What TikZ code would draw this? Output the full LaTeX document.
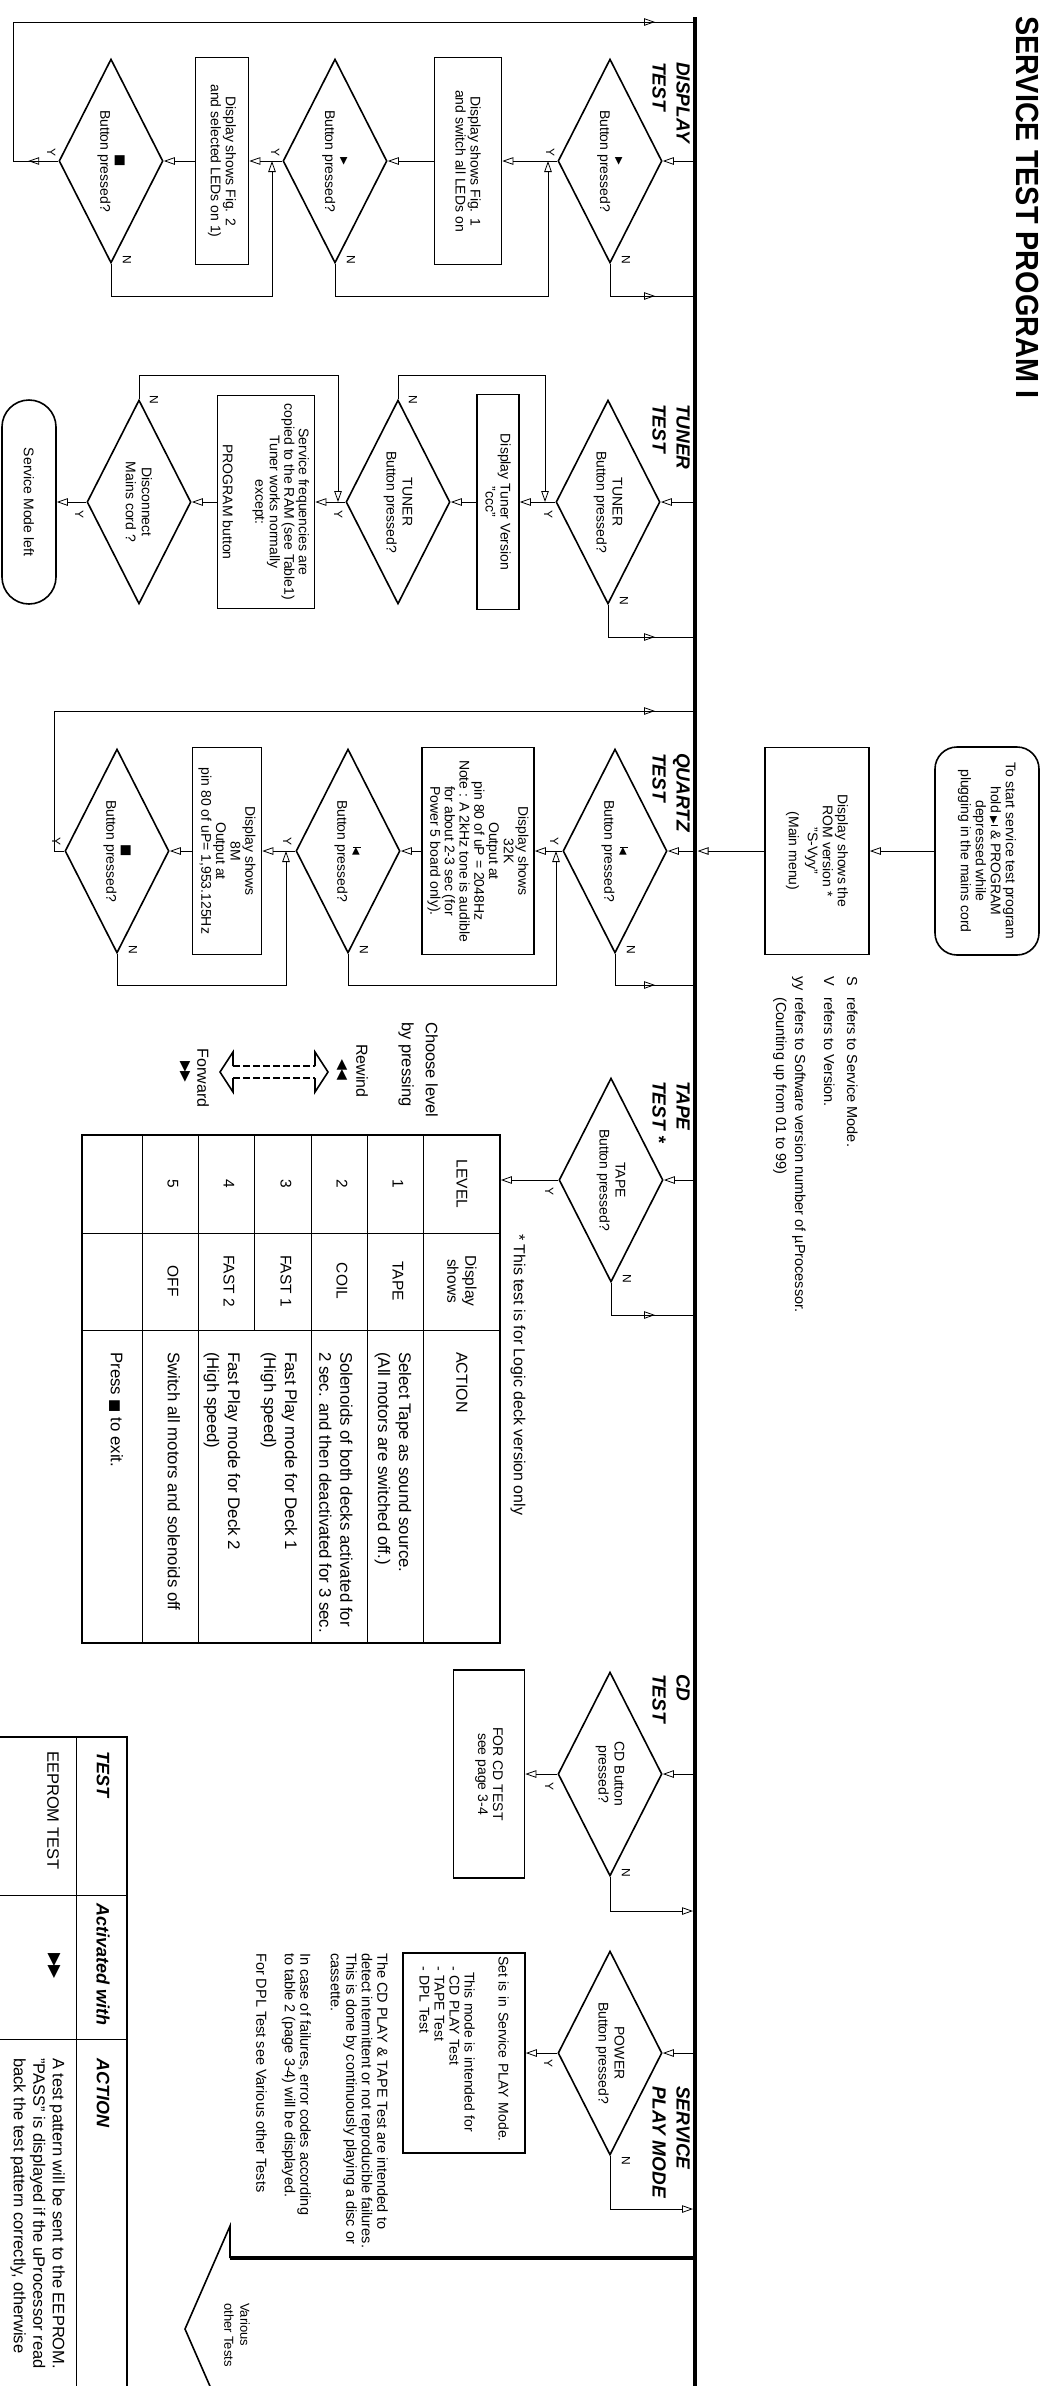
\documentclass[tikz,border=0pt]{standalone}
\usepackage{graphicx}
\usepackage{fontspec}
\setmainfont{Liberation Sans}
\newfontfamily\dvsym{DejaVu Sans}
\usetikzlibrary{arrows.meta, shapes.geometric, decorations.markings}

\newcommand\fs[2]{\fontsize{#1}{#2}\selectfont}
\newcommand\play{{\dvsym\fs{10}{10}▶}}
\newcommand\stopsym[1][13]{{\dvsym\fs{#1}{#1}■}}
\newcommand\prevsym{{\rule{0.9pt}{8pt}\dvsym\fs{10}{10}◀}}
\newcommand\nextsym{{\dvsym\fs{10}{10}▶}\kern0.8pt\rule{0.9pt}{7.5pt}}
\newcommand\rewd{{\dvsym\fs{14}{14}◀\kern-0.5pt◀}}
\newcommand\ffwd[1][14]{{\dvsym\fs{#1}{#1}▶\kern-0.5pt▶}}

\begin{document}
\begin{tikzpicture}[x=1pt, y=1pt, >={Triangle[open, length=11pt, width=7.5pt]},
  wire/.style={line width=0.8pt},
  flow/.style={wire, ->},
  arrowat/.style={postaction={decorate, decoration={markings, mark=at position #1 with {\arrow{>}}}}},
  tobus/.style={wire, arrowat=-40pt},
  busline/.style={line width=4.5pt},
  decision/.style={diamond, draw, line width=1.6pt, aspect=2, inner sep=0pt,
    minimum width=204pt, minimum height=104pt, align=center, font=\fs{14}{16}},
  procbox/.style={rectangle, draw, line width=1.6pt, inner sep=3pt, align=center, font=\fs{14}{15}},
  terminal/.style={procbox, rounded corners=#1},
  yn/.style={inner sep=0pt, font=\fs{12}{12}},
  hdr/.style={anchor=north west, align=left, inner sep=0pt, font=\fs{19}{24}\bfseries\itshape},
  txt/.style={inner sep=0pt, align=left, font=\fs{14.5}{15.5}},
  cell/.style={inner sep=0pt, align=center, font=\fs{15.5}{18}},
  act/.style={inner sep=0pt, align=left, anchor=west, font=\fs{16.8}{21}},
  thead/.style={inner sep=0pt, anchor=west, font=\fs{18}{18}\bfseries\itshape}]
\useasboundingbox (0,0) rectangle (1048,-2386);
\fill[white] (0,0) rectangle (1048,-2386);
\clip (0,0) rectangle (1048,-2386);
\begin{scope}[transform canvas={rotate=-90}]
% main bus and title
\coordinate (busL) at (17,695);
\coordinate (busR) at (2400,695);
\draw[busline] (busL) -- (busR);
\node[anchor=west, inner sep=0pt, font=\fs{32}{32}\bfseries] (title) at (16,1028) {\scalebox{0.9}[1]{SERVICE TEST PROGRAM I}};

% start of the program
\node[terminal=22pt, minimum width=208pt, minimum height=104pt] (start) at (851,987) {To start service test program\\hold \nextsym{} \& PROGRAM\\depressed while\\plugging in the mains cord};
\node[procbox, minimum width=207pt, minimum height=104pt] (rom) at (851,817) {Display shows the\\ROM version *\\"S-Vyy"\\[4pt](Main menu)};
\coordinate (romIn) at (851,697.5);
\draw[flow] (start.south) -- (rom.north);
\draw[flow] (rom.south) -- (romIn);
\node[txt, anchor=base west] (fnS) at (976,847) {S};
\node[txt, anchor=base west] (fnSt) at (997,847) {refers to Service Mode.};
\node[txt, anchor=base west] (fnV) at (976,824) {V};
\node[txt, anchor=base west] (fnVt) at (997,824) {refers to Version.};
\node[txt, anchor=base west] (fnY) at (976,795) {yy};
\node[txt, anchor=base west] (fnYt) at (997,795) {refers to Software version number of µProcessor.};
\node[txt, anchor=base west] (fnC) at (997,776) {(Counting up from 01 to 99)};

% display test
\node[hdr] (hdisp) at (62,690) {DISPLAY\\TEST};
\node[decision] (dd1) at (161,610) {\play\\Button pressed?};
\node[procbox, minimum width=207pt, minimum height=67pt] (db1) at (161,468) {Display shows Fig. 1\\and switch all LEDs on};
\node[decision] (dd2) at (161,335) {\play\\Button pressed?};
\node[procbox, minimum width=207pt, minimum height=53pt] (db2) at (161,222) {Display shows Fig. 2\\and selected LEDs on 1)};
\node[decision] (dd3) at (161,111) {\stopsym\\Button pressed?};
\coordinate (dispN) at (296,0);
\coordinate (dispJ1) at (161,548);
\coordinate (dispJ2) at (161,272);
\coordinate (dispL1) at (161,13);
\coordinate (dispL2) at (22,13);
\draw[flow] (dd1.north |- busL) -- (dd1.north);
\draw[flow] (dd1.south) -- (db1.north);
\draw[flow] (db1.south) -- (dd2.north);
\draw[flow] (dd2.south) -- (db2.north);
\draw[flow] (db2.south) -- (dd3.north);
\draw[tobus] (dd1.east) -| (dispN |- busL);
\draw[flow] (dd2.east) -| (dispN |- dispJ1) -- (dispJ1);
\draw[flow] (dd3.east) -| (dispN |- dispJ2) -- (dispJ2);
\draw[tobus, arrowat=30pt] (dd3.south) -- (dispL1) -- (dispL2) -- (dispL2 |- busL);
\node[yn] (dd1Y) at ([shift={(-9,-7)}]dd1.south) {Y};
\node[yn] (dd1N) at ([shift={(-4,16)}]dd1.east) {N};
\node[yn] (dd2Y) at ([shift={(-9,-7)}]dd2.south) {Y};
\node[yn] (dd2N) at ([shift={(-4,16)}]dd2.east) {N};
\node[yn] (dd3Y) at ([shift={(-9,-7)}]dd3.south) {Y};
\node[yn] (dd3N) at ([shift={(-4,16)}]dd3.east) {N};

% tuner test
\node[hdr] (htun) at (404,690) {TUNER\\TEST};
\node[decision] (td1) at (502,608) {TUNER\\Button pressed?};
\node[procbox, minimum width=215pt, minimum height=42pt] (tb1) at (502,498) {Display Tuner Version\\"ccc"};
\node[decision] (td2) at (502,398) {TUNER\\Button pressed?};
\node[procbox, minimum width=213pt, minimum height=97pt, font=\fs{14}{14.5}] (tb2) at (502,266) {Service frequencies are\\copied to the RAM (see Table1)\\Tuner works normally\\except:\\[18pt]PROGRAM button};
\node[decision] (td3) at (502,139) {Disconnect\\Mains cord ?};
\node[terminal=27pt, minimum width=204pt, minimum height=54pt] (tend) at (502,29) {Service Mode left};
\coordinate (tunN) at (637,0);
\coordinate (tunW) at (375,0);
\coordinate (tunJ1) at (502,545);
\coordinate (tunJ2) at (502,338);
\draw[flow] (td1.north |- busL) -- (td1.north);
\draw[flow] (td1.south) -- (tb1.north);
\draw[flow] (tb1.south) -- (td2.north);
\draw[flow] (td2.south) -- (tb2.north);
\draw[flow] (tb2.south) -- (td3.north);
\draw[flow] (td3.south) -- (tend.north);
\draw[tobus] (td1.east) -| (tunN |- busL);
\draw[flow] (td2.west) -| (tunW |- tunJ1) -- (tunJ1);
\draw[flow] (td3.west) -| (tunW |- tunJ2) -- (tunJ2);
\node[yn] (td1Y) at ([shift={(12,-7)}]td1.south) {Y};
\node[yn] (td1N) at ([shift={(-4,16)}]td1.east) {N};
\node[yn] (td2Y) at ([shift={(12,-7)}]td2.south) {Y};
\node[yn] (td2N) at ([shift={(1,15)}]td2.west) {N};
\node[yn] (td3Y) at ([shift={(12,-7)}]td3.south) {Y};
\node[yn] (td3N) at ([shift={(1,15)}]td3.west) {N};

% quartz test
\node[hdr] (hqtz) at (753,690) {QUARTZ\\TEST};
\node[decision] (qd1) at (851,615) {\prevsym\\Button pressed?};
\node[procbox, minimum width=207pt, minimum height=112pt, font=\fs{14}{14.7}] (qb1) at (851,478) {Display shows\\32K\\Output at\\pin 80 of uP = 2048Hz\\Note : A 2kHz tone is audible\\for about 2-3 sec (for\\Power 5 board only).};
\node[decision] (qd2) at (851,348) {\prevsym\\Button pressed?};
\node[procbox, minimum width=207pt, minimum height=69pt, font=\fs{14}{14.7}] (qb2) at (851,227) {Display shows\\8M\\Output at\\pin 80 of uP= 1,953.125Hz};
\node[decision] (qd3) at (851,117) {\stopsym\\Button pressed?};
\coordinate (qtzN) at (985,0);
\coordinate (qtzJ1) at (851,556);
\coordinate (qtzJ2) at (851,286);
\coordinate (qtzL1) at (851,54);
\coordinate (qtzL2) at (711,54);
\draw[flow] (qd1.north |- busL) -- (qd1.north);
\draw[flow] (qd1.south) -- (qb1.north);
\draw[flow] (qb1.south) -- (qd2.north);
\draw[flow] (qd2.south) -- (qb2.north);
\draw[flow] (qb2.south) -- (qd3.north);
\draw[tobus] (qd1.east) -| (qtzN |- busL);
\draw[flow] (qd2.east) -| (qtzN |- qtzJ1) -- (qtzJ1);
\draw[flow] (qd3.east) -| (qtzN |- qtzJ2) -- (qtzJ2);
\draw[tobus] (qd3.south) -- (qtzL1) -- (qtzL2) -- (qtzL2 |- busL);
\node[yn] (qd1Y) at ([shift={(-10,-8)}]qd1.south) {Y};
\node[yn] (qd1N) at ([shift={(-4,16)}]qd1.east) {N};
\node[yn] (qd2Y) at ([shift={(-10,-8)}]qd2.south) {Y};
\node[yn] (qd2N) at ([shift={(-4,16)}]qd2.east) {N};
\node[yn] (qd3Y) at ([shift={(-10,-8)}]qd3.south) {Y};
\node[yn] (qd3N) at ([shift={(-4,16)}]qd3.east) {N};

% tape test
\node[hdr] (htape) at (1081,690) {TAPE\\TEST *};
\node[decision] (tpd) at (1180,611) {TAPE\\Button pressed?};
\node[draw, line width=1.8pt, minimum width=508pt, minimum height=418pt, inner sep=0pt] (tbl) at (1389,291) {};
\coordinate (tapeN) at (1315,0);
\draw[flow] (tpd.north |- busL) -- (tpd.north);
\draw[flow] (tpd.south) -- (tpd.south |- tbl.north);
\draw[tobus] (tpd.east) -| (tapeN |- busL);
\node[yn] (tpdY) at ([shift={(11,-9)}]tpd.south) {Y};
\node[yn] (tpdN) at ([shift={(-4,16)}]tpd.east) {N};
\node[txt, anchor=west, font=\fs{16}{18}] (tapenote) at (1234,518) {* This test is for Logic deck version only};
\foreach \ry in {423,367,311,198,142} \draw[wire] (1135,\ry) -- (1643,\ry);
\draw[wire] (1135,254) -- (1330,254);
\draw[wire] (1233,82) -- (1233,500);
\draw[wire] (1330,82) -- (1330,500);
\node[cell] (tlev) at (1184,462) {LEVEL};
\node[cell] (tshw) at (1281,462) {Display\\shows};
\node[cell, anchor=west, font=\fs{16}{18}] (tact) at (1352,462) {ACTION};
\foreach \n/\ry/\shw in {1/398/TAPE, 2/342/COIL, 3/286/FAST 1, 4/229/FAST 2, 5/173/OFF} {
  \node[cell] (lv\n) at (1184,\ry) {\n};
  \node[cell] (sh\n) at (1281,\ry) {\shw};
}
\node[act] (ac1) at (1352,393) {Select Tape as sound source.\\(All motors are switched off.)};
\node[act] (ac2) at (1352,336) {Solenoids of both decks activated for\\2 sec. and then deactivated for 3 sec.};
\node[act] (ac3) at (1352,279) {Fast Play mode for Deck 1\\(High speed)};
\node[act] (ac4) at (1352,222) {Fast Play mode for Deck 2\\(High speed)};
\node[act] (ac5) at (1352,174) {Switch all motors and solenoids off};
\node[act] (ac6) at (1352,116) {Press \stopsym[14] to exit.};
% level selection
\node[txt, anchor=north west, font=\fs{16.5}{24}] (choose) at (1022,438) {Choose level\\by pressing};
\node[txt, font=\fs{16}{18}] (rewlbl) at (1071,362) {Rewind};
\node[inner sep=0pt] (rewsym) at (1070,342) {\rewd};
\node[txt, font=\fs{16}{18}] (fwdlbl) at (1078,203) {Forward};
\node[inner sep=0pt] (fwdsym) at (1072,185) {\ffwd};
\draw[line width=1.6pt] (1066,233) -- (1052,233) -- (1072,220) -- (1092,233) -- (1078,233);
\draw[line width=1.6pt] (1066,315) -- (1052,315) -- (1072,328) -- (1092,315) -- (1078,315);
\draw[line width=1.5pt, dash pattern=on 7pt off 3pt] (1066,233) -- (1066,315);
\draw[line width=1.5pt, dash pattern=on 7pt off 3pt] (1078,233) -- (1078,315);

% cd test
\node[hdr] (hcd) at (1674,690) {CD\\TEST};
\node[decision] (cdd) at (1774,610) {CD Button\\pressed?};
\node[procbox, minimum width=208pt, minimum height=71pt] (cdb) at (1774,489) {FOR CD TEST\\see page 3-4};
\coordinate (cdN) at (1911,693);
\draw[flow] (cdd.north |- busL) -- (cdd.north);
\draw[flow] (cdd.south) -- (cdb.north);
\draw[flow] (cdd.east) -| (cdN);
\node[yn] (cddY) at ([shift={(12,-8)}]cdd.south) {Y};
\node[yn] (cddN) at ([shift={(-4,16)}]cdd.east) {N};

% service play mode
\node[hdr] (hsvc) at (2086,690) {SERVICE\\PLAY MODE};
\node[decision] (spd) at (2053,610) {POWER\\Button pressed?};
\node[procbox, align=left, text width=194pt, minimum height=122pt] (spb) at (2053,464) {Set is in Service PLAY Mode.\\[19pt]\hspace*{16pt}This mode is intended for\\\hspace*{10pt}- CD PLAY Test\\\hspace*{10pt}- TAPE Test\\\hspace*{10pt}- DPL Test};
\coordinate (svcN) at (2209,693);
\draw[flow] (spd.north |- busL) -- (spd.north);
\draw[flow] (spd.south) -- (spb.north);
\draw[flow] (spd.east) -| (svcN);
\node[yn] (spdY) at ([shift={(10,-9)}]spd.south) {Y};
\node[yn] (spdN) at ([shift={(5,16)}]spd.east) {N};
\node[txt, anchor=north west] (svcnote) at (1953,388) {The CD PLAY \& TAPE Test are intended to\\detect intermittent or not reproducible failures.\\This is done by continuously playing a disc or\\cassette.\\[15pt]In case of failures, error codes according\\to table 2 (page 3-4) will be displayed.\\[13pt]For DPL Test see Various other Tests};

% various other tests
\coordinate (varTop) at (2258,695);
\coordinate (varBot) at (2258,230);
\draw[busline] (varTop) -- (varBot);
\draw[line width=1.6pt] (varBot) -- (2226,230) -- (2329,185) -- (2432,230) -- (2400,230) -- (2400,695);
\node[txt, anchor=west, font=\fs{13}{16}] (various) at (2303,237) {Various\\other Tests};

% eeprom table
\draw[line width=1.8pt] (1737,0) -- (1737,127) -- (2400,127);
\draw[wire] (1737,76) -- (2400,76);
\draw[wire] (1895,0) -- (1895,127);
\draw[wire] (2039,0) -- (2039,127);
\node[thead] (eeTh) at (1751,103) {TEST};
\node[txt, anchor=west, font=\fs{16.5}{18}] (eeT) at (1751,53) {EEPROM TEST};
\node[thead] (eeAh) at (1903,103) {Activated with};
\node[inner sep=0pt] (eeA) at (1966,54) {\ffwd[17]};
\node[thead] (eeCh) at (2058,103) {ACTION};
\node[txt, anchor=north west, font=\fs{16.5}{19.5}] (eeC) at (2058,65) {A test pattern will be sent to the EEPROM.\\"PASS" is displayed if the uProcessor read\\back the test pattern correctly, otherwise};
\end{scope}
\end{tikzpicture}
\end{document}
